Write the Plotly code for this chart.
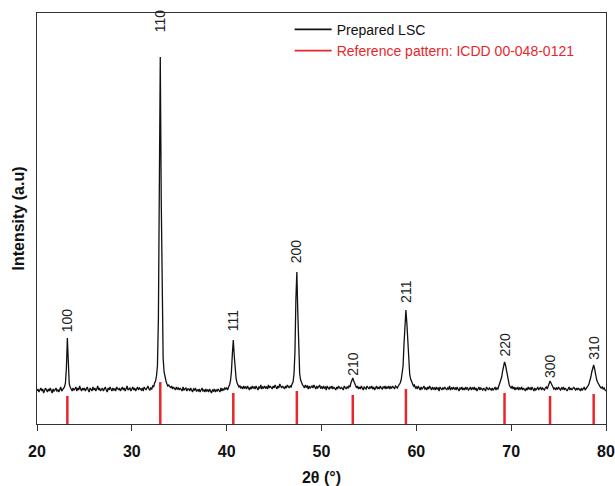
import numpy as np
import plotly.graph_objects as go

# XRD pattern, intensity (a.u.) sampled every 0.1 degree from 20 to 80
two_theta_start = 20.0
two_theta_step = 0.1
intensity = [
    33, 35, 32, 34, 36, 33, 35, 31, 34, 36,   # 20
    34, 32, 35, 33, 36, 34, 31, 35, 33, 34,   # 21
    36, 33, 34, 32, 35, 37, 33, 34, 36, 37,   # 22
    41, 56, 86, 52, 40, 37, 35, 33, 36, 34,   # 23
    35, 37, 33, 36, 34, 38, 35, 33, 36, 34,   # 24
    36, 33, 35, 37, 34, 32, 36, 35, 33, 37,   # 25
    34, 36, 33, 35, 38, 34, 36, 33, 35, 36,   # 26
    33, 35, 37, 34, 32, 36, 34, 37, 35, 33,   # 27
    36, 34, 35, 33, 37, 35, 34, 36, 33, 35,   # 28
    37, 34, 36, 33, 35, 38, 34, 35, 36, 33,   # 29
    35, 37, 34, 36, 33, 35, 37, 34, 36, 35,   # 30
    34, 36, 33, 37, 35, 34, 36, 38, 35, 34,   # 31
    36, 35, 38, 37, 41, 43, 48, 58, 105, 215,  # 32
    367, 225, 112, 66, 52, 46, 43, 40, 38, 39,  # 33
    37, 36, 38, 35, 37, 36, 34, 37, 35, 36,   # 34
    34, 36, 35, 33, 37, 34, 35, 36, 33, 35,   # 35
    35, 33, 36, 34, 32, 35, 34, 36, 33, 34,   # 36
    33, 35, 32, 34, 36, 33, 34, 32, 35, 33,   # 37
    34, 32, 35, 33, 31, 34, 33, 35, 32, 34,   # 38
    33, 35, 34, 32, 36, 33, 35, 34, 36, 35,   # 39
    36, 34, 37, 39, 43, 52, 70, 84, 68, 52,   # 40
    45, 41, 39, 37, 38, 36, 37, 35, 38, 36,   # 41
    37, 35, 38, 36, 34, 37, 35, 38, 36, 37,   # 42
    35, 38, 36, 34, 37, 36, 39, 35, 37, 36,   # 43
    38, 36, 37, 35, 39, 36, 38, 37, 35, 38,   # 44
    36, 39, 37, 35, 38, 36, 40, 37, 36, 38,   # 45
    37, 35, 38, 36, 39, 37, 36, 38, 37, 40,   # 46
    42, 50, 72, 125, 152, 112, 68, 50, 44, 41,  # 47
    39, 38, 36, 39, 37, 38, 35, 38, 36, 37,   # 48
    38, 36, 39, 37, 35, 38, 36, 37, 39, 36,   # 49
    37, 35, 38, 36, 37, 34, 38, 36, 35, 37,   # 50
    36, 38, 35, 37, 36, 34, 37, 35, 38, 36,   # 51
    35, 37, 36, 34, 38, 36, 35, 37, 36, 38,   # 52
    37, 41, 44, 46, 43, 40, 37, 36, 38, 35,   # 53
    37, 35, 38, 36, 34, 37, 36, 35, 38, 36,   # 54
    35, 37, 36, 38, 35, 37, 34, 36, 38, 35,   # 55
    37, 35, 38, 36, 35, 37, 36, 38, 35, 37,   # 56
    36, 38, 35, 37, 36, 38, 37, 35, 38, 37,   # 57
    36, 38, 39, 41, 44, 49, 58, 80, 104, 114,  # 58
    101, 78, 60, 50, 45, 42, 40, 38, 39, 36,  # 59
    37, 35, 38, 36, 34, 37, 35, 36, 38, 35,   # 60
    36, 34, 37, 35, 38, 36, 34, 37, 35, 36,   # 61
    34, 37, 35, 36, 33, 37, 35, 34, 36, 35,   # 62
    37, 35, 34, 36, 35, 38, 34, 36, 35, 37,   # 63
    35, 36, 34, 37, 35, 33, 36, 35, 37, 34,   # 64
    36, 34, 37, 35, 36, 34, 35, 37, 34, 36,   # 65
    35, 37, 34, 36, 33, 35, 37, 34, 36, 35,   # 66
    34, 36, 35, 33, 37, 35, 34, 36, 35, 34,   # 67
    36, 34, 35, 37, 34, 36, 35, 38, 40, 43,   # 68
    47, 53, 59, 62, 59, 53, 47, 42, 39, 37,   # 69
    36, 38, 35, 37, 34, 36, 35, 37, 34, 36,   # 70
    35, 37, 34, 36, 35, 33, 36, 34, 37, 35,   # 71
    36, 34, 37, 35, 33, 36, 34, 35, 37, 34,   # 72
    35, 37, 34, 36, 35, 34, 36, 37, 35, 38,   # 73
    41, 43, 41, 38, 37, 35, 36, 34, 36, 35,   # 74
    37, 35, 34, 36, 35, 37, 34, 36, 35, 33,   # 75
    35, 37, 34, 36, 34, 35, 37, 35, 34, 36,   # 76
    34, 36, 35, 33, 36, 34, 35, 37, 34, 35,   # 77
    36, 38, 40, 43, 47, 52, 57, 59, 55, 49,   # 78
    45, 42, 40, 38, 37, 36, 37, 35, 36, 34,   # 79
    33,                                       # 80
]
two_theta = np.round(two_theta_start + two_theta_step * np.arange(len(intensity)), 1)

# Reference pattern ICDD 00-048-0121 (stick positions and relative heights)
ref_positions = [23.2, 33.0, 40.7, 47.4, 53.3, 58.9, 69.3, 74.1, 78.7]
ref_heights = [28, 42, 31, 33, 29, 35, 31, 28, 30]

# Miller index labels
peak_labels = ["100", "110", "111", "200", "210", "211", "220", "300", "310"]
label_positions = [23.2, 33.0, 40.7, 47.35, 53.3, 58.9, 69.3, 74.1, 78.7]
label_heights = [104, 403, 103, 173, 60, 133, 79, 58, 76]

FONT = "Arial, Liberation Sans, sans-serif"
RED = "#e8262b"

stick_x, stick_y = [], []
for p, h in zip(ref_positions, ref_heights):
    stick_x += [p, p, None]
    stick_y += [0, h, None]

fig = go.Figure()
fig.add_trace(go.Scatter(
    x=two_theta, y=intensity, mode="lines", name="Prepared LSC",
    line=dict(color="#111111", width=1.3), showlegend=False,
))
fig.add_trace(go.Scatter(
    x=stick_x, y=stick_y, mode="lines", name="Reference pattern",
    line=dict(color=RED, width=2.5), showlegend=False,
))
# legend-only entries
fig.add_trace(go.Scatter(
    x=[None], y=[None], mode="lines", name="Prepared LSC",
    line=dict(color="#111111", width=1.6),
))
fig.add_trace(go.Scatter(
    x=[None], y=[None], mode="lines",
    name=f"<span style='color:{RED}'>Reference pattern: ICDD 00-048-0121</span>",
    line=dict(color=RED, width=1.6),
))

for lab, px, py in zip(peak_labels, label_positions, label_heights):
    fig.add_annotation(
        x=px, y=py, text=lab, textangle=-90, showarrow=False,
        xanchor="center", yanchor="middle",
        font=dict(family=FONT, size=14, color="#222222"),
    )

fig.update_layout(
    width=615, height=486,
    margin=dict(l=37, r=9, t=13, b=62, autoexpand=False),
    paper_bgcolor="white", plot_bgcolor="white",
    font=dict(family=FONT, color="#111111"),
    showlegend=True,
    legend=dict(
        x=0.444, y=0.998, xanchor="left", yanchor="top",
        bgcolor="rgba(0,0,0,0)", font=dict(family=FONT, size=14, color="#111111"),
        tracegroupgap=0, itemwidth=37,
    ),
)
fig.update_xaxes(
    range=[20, 80], tick0=20, dtick=10, ticks="outside", ticklen=6,
    tickcolor="#333333", linecolor="#333333", linewidth=1, mirror=True,
    showline=True, showgrid=False, zeroline=False, automargin=False,
    tickfont=dict(family=FONT, size=16, color="#111111", weight="bold"),
    ticklabelstandoff=7,
    title=dict(text="<b>2θ (°)</b>", font=dict(family=FONT, size=16, color="#111111"), standoff=12),
)
fig.update_yaxes(
    range=[0, 411], showticklabels=False, ticks="", linecolor="#333333",
    linewidth=1, mirror=True, showline=True, showgrid=False, zeroline=False,
    automargin=False,
    title=dict(text="<b>Intensity (a.u)</b>", font=dict(family=FONT, size=16, color="#111111"), standoff=7),
)

fig.write_html("out.html")
